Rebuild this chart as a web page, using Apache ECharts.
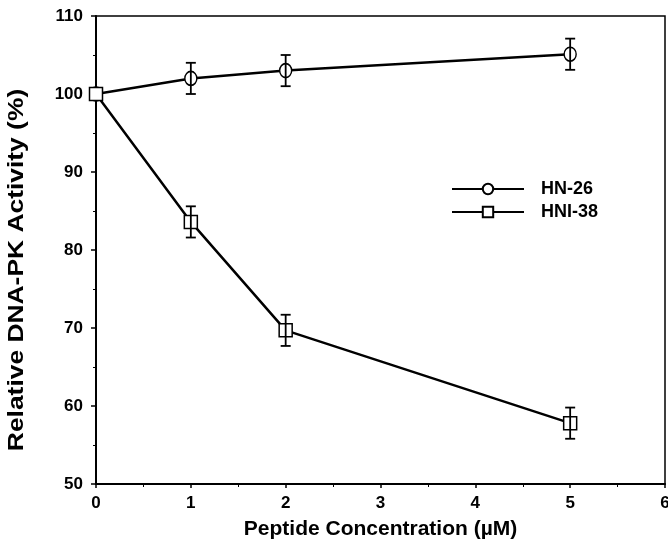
<!DOCTYPE html>
<html>
<head>
<meta charset="utf-8">
<script src="https://cdn.jsdelivr.net/npm/echarts@6/dist/echarts.min.js"></script>
<style>
  html, body { margin: 0; padding: 0; background: #fff; }
  #main { width: 668px; height: 546px; }
</style>
</head>
<body>
<div id="main"></div>
<script>
// 数据
var concentrations = [0, 1, 2, 5];
var hn26 = [100, 102.0, 103.0, 105.1];
var hn26Err = [0, 2.0, 2.0, 2.0];
var hni38 = [100, 83.6, 69.7, 57.8];
var hni38Err = [0, 2.0, 2.0, 2.0];

var font = 'Liberation Sans, Arial, sans-serif';

function pairs(xs, ys) {
    var out = [];
    for (var i = 0; i < xs.length; i++) out.push([xs[i], ys[i]]);
    return out;
}
function errData(xs, ys, es) {
    var out = [];
    for (var i = 0; i < xs.length; i++) {
        if (es[i] > 0) out.push([xs[i], ys[i] - es[i], ys[i] + es[i]]);
    }
    return out;
}
// 误差棒
function renderErr(params, api) {
    var x = api.value(0);
    var lo = api.coord([x, api.value(1)]);
    var hi = api.coord([x, api.value(2)]);
    var w = 5;
    var st = { stroke: '#000', lineWidth: 1.8 };
    return {
        type: 'group',
        children: [
            { type: 'line', shape: { x1: lo[0], y1: lo[1], x2: hi[0], y2: hi[1] }, style: st },
            { type: 'line', shape: { x1: lo[0] - w, y1: lo[1], x2: lo[0] + w, y2: lo[1] }, style: st },
            { type: 'line', shape: { x1: hi[0] - w, y1: hi[1], x2: hi[0] + w, y2: hi[1] }, style: st }
        ]
    };
}

var myChart = echarts.init(document.getElementById('main'));
var option = {
    backgroundColor: '#fff',
    animation: false,
    // y轴标题
    graphic: [{
        type: 'text',
        x: 17, y: 270,
        rotation: Math.PI / 2,
        scaleX: 1.2,
        style: {
            text: 'Relative DNA-PK Activity (%)',
            font: 'bold 22px Liberation Sans, Arial, sans-serif',
            fill: '#000',
            textAlign: 'center',
            textVerticalAlign: 'middle'
        }
    }],
    grid: {
        left: 96, right: 3, top: 16, bottom: 62,
        outerBoundsMode: 'none',
        containLabel: false,
        show: true, borderColor: '#000', borderWidth: 1.5
    },
    legend: {
        left: 446, top: 175,
        orient: 'vertical',
        itemWidth: 72, itemHeight: 13, itemGap: 5,
        textStyle: { fontFamily: font, fontWeight: 'bold', fontSize: 18, color: '#000', padding: [0, 0, 0, 12] },
        data: ['HN-26', 'HNI-38']
    },
    xAxis: {
        type: 'value', min: 0, max: 6, interval: 1,
        name: 'Peptide Concentration (µM)',
        nameLocation: 'middle', nameGap: 35,
        nameTextStyle: { fontFamily: font, fontWeight: 'bold', fontSize: 21, color: '#000' },
        axisLine: { lineStyle: { color: '#000', width: 2 } },
        axisTick: { inside: false, length: 4, lineStyle: { color: '#000', width: 1.5 } },
        minorTick: { show: true, splitNumber: 2, length: 3, lineStyle: { color: '#000' } },
        axisLabel: { fontFamily: font, fontWeight: 'bold', fontSize: 17, color: '#000', margin: 11 },
        splitLine: { show: false }
    },
    yAxis: {
        type: 'value', min: 50, max: 110, interval: 10,
        axisLine: { lineStyle: { color: '#000', width: 2 } },
        axisTick: { inside: false, length: 5, lineStyle: { color: '#000', width: 1.5 } },
        minorTick: { show: true, splitNumber: 2, length: 3, lineStyle: { color: '#000' } },
        axisLabel: { fontFamily: font, fontWeight: 'bold', fontSize: 17, color: '#000', margin: 13 },
        splitLine: { show: false }
    },
    series: [
        {
            name: 'HN-26', type: 'line',
            data: pairs(concentrations, hn26),
            symbol: 'circle', symbolSize: [12, 14],
            lineStyle: { color: '#000', width: 2.5 },
            itemStyle: { color: '#fff', borderColor: '#000', borderWidth: 1.5 },
            z: 3
        },
        {
            name: 'HNI-38', type: 'line',
            data: pairs(concentrations, hni38),
            symbol: 'rect', symbolSize: 13,
            lineStyle: { color: '#000', width: 2.5 },
            itemStyle: { color: '#fff', borderColor: '#000', borderWidth: 1.5 },
            z: 3
        },
        {
            type: 'custom', renderItem: renderErr,
            data: errData(concentrations, hn26, hn26Err), z: 4
        },
        {
            type: 'custom', renderItem: renderErr,
            data: errData(concentrations, hni38, hni38Err), z: 4
        }
    ]
};
myChart.setOption(option);
</script>
</body>
</html>
